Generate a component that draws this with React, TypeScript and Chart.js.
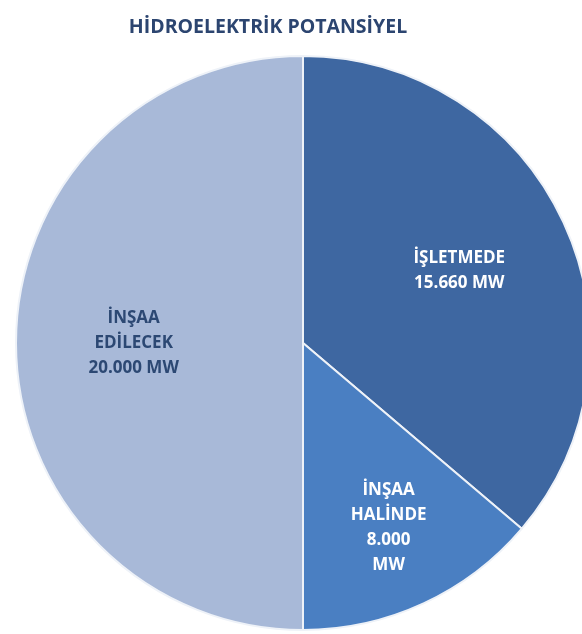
import React, { useEffect, useRef } from "react";
import { Chart, registerables } from "chart.js";

Chart.register(...registerables);

const title = "HİDROELEKTRİK POTANSİYEL";
const categories = ["İŞLETMEDE", "İNŞAA HALİNDE", "İNŞAA EDİLECEK"];
const capacityLabels = ["15.660 MW", "8.000 MW", "20.000 MW"];
// slice shares (%)
const shares = [36.2, 13.8, 50];
// label lines as they are wrapped in the picture
const labelLines = [
  ["İŞLETMEDE", "15.660 MW"],
  ["İNŞAA", "HALİNDE", "8.000", "MW"],
  ["İNŞAA", "EDİLECEK", "20.000 MW"],
];

const sliceColors = ["#3e67a1", "#4a7fc2", "#a8b9d8"];
const labelColors = ["#ffffff", "#ffffff", "#2c4873"];
const labelRadius = [0.6, 0.71, 0.59];
const FONT = "'Open Sans', 'Liberation Sans', sans-serif";

const labelPlugin = {
  id: "sliceLabels",
  afterDatasetsDraw(chart: any) {
    const ctx = chart.ctx;
    const meta = chart.getDatasetMeta(0);
    ctx.save();
    ctx.font = `bold 17px ${FONT}`;
    ctx.textAlign = "center";
    ctx.textBaseline = "middle";
    meta.data.forEach((arc: any, i: number) => {
      const { x, y, startAngle, endAngle, outerRadius } = arc.getProps(
        ["x", "y", "startAngle", "endAngle", "outerRadius"],
        true
      );
      const mid = (startAngle + endAngle) / 2;
      const r = outerRadius * labelRadius[i];
      const cx = x + Math.cos(mid) * r;
      const cy = y + Math.sin(mid) * r;
      const lines = labelLines[i];
      const lh = 25;
      ctx.fillStyle = labelColors[i];
      lines.forEach((ln: string, k: number) => {
        ctx.fillText(ln, cx, cy + (k - (lines.length - 1) / 2) * lh);
      });
    });
    ctx.restore();
  },
};

const titlePlugin = {
  id: "customTitle",
  afterDraw(chart: any) {
    const ctx = chart.ctx;
    ctx.save();
    ctx.font = `bold 19.5px ${FONT}`;
    ctx.textAlign = "center";
    ctx.textBaseline = "middle";
    ctx.fillStyle = "#2c4570";
    ctx.fillText(title, 268, 27);
    ctx.restore();
  },
};

export default function App() {
  const ref = useRef<HTMLCanvasElement | null>(null);
  useEffect(() => {
    if (!ref.current) return;
    const chart = new Chart(ref.current, {
      type: "pie",
      data: {
        labels: categories.map((c, i) => `${c} ${capacityLabels[i]}`),
        datasets: [
          {
            data: shares,
            backgroundColor: sliceColors,
            borderColor: "#eef2f8",
            borderWidth: 2,
          },
        ],
      },
      options: {
        responsive: false,
        animation: false,
        radius: 287,
        layout: { padding: { top: 56, bottom: 4, left: 0, right: 0 } },
        plugins: {
          legend: { display: false },
          tooltip: { enabled: false },
          title: { display: false },
        },
      } as any,
      plugins: [labelPlugin, titlePlugin],
    });
    return () => chart.destroy();
  }, []);
  return (
    <div
      style={{
        position: "fixed",
        left: 0,
        top: 0,
        width: 582,
        height: 634,
        overflow: "hidden",
        background: "#ffffff",
      }}
    >
      <canvas ref={ref} width={606} height={634} style={{ width: 606, height: 634, display: "block" }} />
    </div>
  );
}
